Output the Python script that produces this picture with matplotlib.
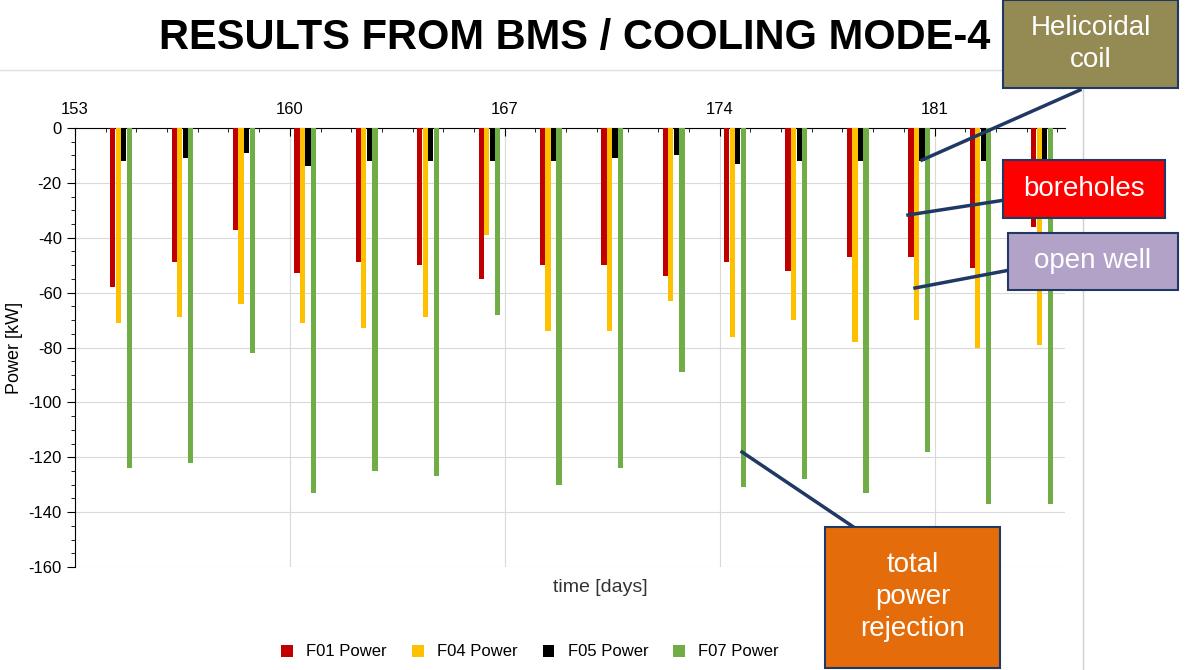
import matplotlib
matplotlib.use("Agg")
import matplotlib.pyplot as plt
import numpy as np

days = [154.5 + 2*i for i in range(16)]
f01 = [-58, -49, -37, -53, -49, -50, -55, -50, -50, -54, -49, -52, -47, -47, -51, -36]
f04 = [-71, -69, -64, -71, -73, -69, -39, -74, -74, -63, -76, -70, -78, -70, -80, -79]
f05 = [-12, -11, -9, -14, -12, -12, -12, -12, -11, -10, -13, -12, -12, -12, -12, -12]
f07 = [-124, -122, -82, -133, -125, -127, -68, -130, -124, -89, -131, -128, -133, -118, -137, -137]
series = [("F01 Power", f01, "#C00000"), ("F04 Power", f04, "#FFC000"),
          ("F05 Power", f05, "#000000"), ("F07 Power", f07, "#70AD47")]
xticks = [153, 160, 167, 174, 181]

plt.rcParams["font.family"] = "Liberation Sans"
plt.rcParams["axes.unicode_minus"] = False
fig = plt.figure(figsize=(11.88, 6.7), dpi=100)
ax = fig.add_axes([75/1188, 1-567/670, 990/1188, (567-128)/670])
offs = [-0.27, -0.09, 0.09, 0.27]
x = np.array(days)
for (name, vals, c), o in zip(series, offs):
    ax.bar(x + o, vals, width=0.17, color=c, label=name, zorder=3)
ax.set_xlim(153, 185.25)
ax.set_ylim(-160, 0)
ax.set_yticks(range(-160, 1, 20))
ax.set_yticks(range(-160, 1, 5), minor=True)
ax.set_xticks(xticks)
ax.set_xticks(range(153, 186), minor=True)
ax.xaxis.tick_top()
ax.tick_params(axis="x", which="major", labelsize=12, length=6, direction="in", pad=8)
ax.tick_params(axis="x", which="minor", length=3, direction="in")
ax.tick_params(axis="y", which="major", labelsize=12, length=6)
ax.tick_params(axis="y", which="minor", length=3)
ax.grid(True, which="major", color="#D9D9D9", zorder=0)
for s in ["right", "bottom"]:
    ax.spines[s].set_visible(False)
ax.spines["top"].set_position(("data", 0))
ax.spines["top"].set_color("black")
ax.set_ylabel("Power [kW]", fontsize=13)
fig.text(600/1188, 1-587/670, "time [days]", fontsize=14, ha="center", va="center", color="#333333")
leg = fig.legend(loc="center", bbox_to_anchor=(530/1188, 1-652/670), ncol=4, frameon=False,
                 fontsize=12, handlelength=0.7, handleheight=0.7, columnspacing=1.5)
fig.text(575/1188, 1-38/670, "RESULTS FROM BMS / COOLING MODE-4", fontsize=30, fontweight="bold",
         ha="center", va="center")
fig.add_artist(plt.Line2D([1083/1188, 1083/1188], [0.0, 1-70/670], color="#D0D0D0", lw=1))
fig.add_artist(plt.Line2D([0, 1083/1188], [1-70/670, 1-70/670], color="#E0E0E0", lw=1))

def box(x0, y0, x1, y1, color, text, fs=20):
    r = plt.Rectangle((x0/1188, 1-y1/670), (x1-x0)/1188, (y1-y0)/670, transform=fig.transFigure,
                      facecolor=color, edgecolor="#1F3864", lw=1.5, zorder=10)
    fig.add_artist(r)
    fig.text((x0+x1)/2/1188, 1-(y0+y1)/2/670, text, ha="center", va="center", color="white",
             fontsize=fs, zorder=11, linespacing=1.3)

def arrow(x0, y0, x1, y1):
    fig.add_artist(plt.Line2D([x0/1188, x1/1188], [1-y0/670, 1-y1/670], color="#1F3864", lw=2.5, zorder=9))

arrow(1080, 90, 922, 160)
arrow(1005, 200, 908, 215)
arrow(1010, 270, 915, 288)
arrow(855, 528, 742, 452)
box(1003, 0, 1178, 88, "#948A54", "Helicoidal\ncoil")
box(1003, 160, 1165, 218, "#FF0000", "boreholes")
box(1008, 233, 1178, 290, "#B3A2C7", "open well")
box(825, 527, 1000, 668, "#E46C0A", "total\npower\nrejection")
fig.savefig("out.png", dpi=100)
